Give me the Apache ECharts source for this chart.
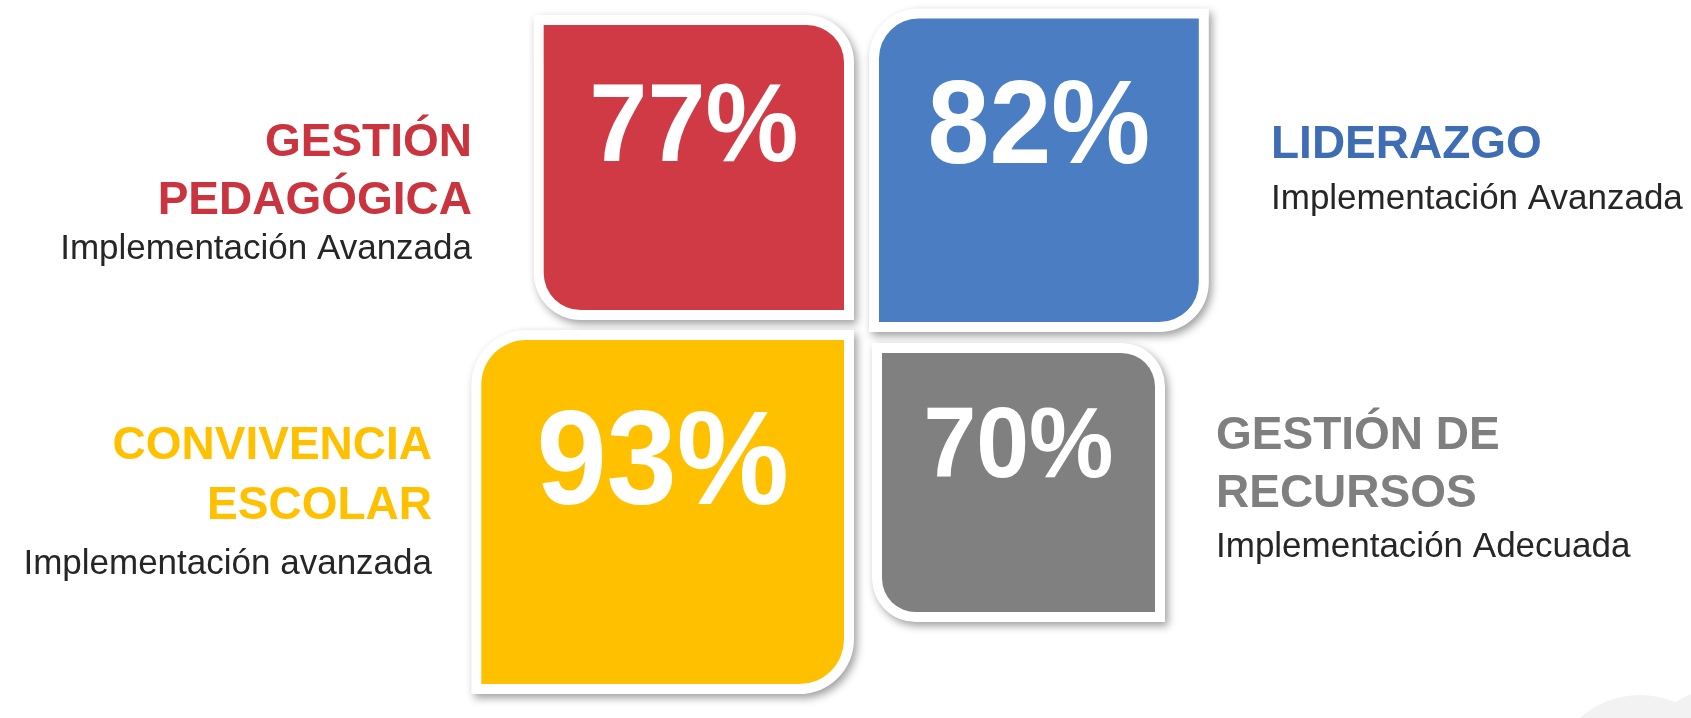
<!DOCTYPE html>
<html lang="es">
<head>
<meta charset="utf-8">
<title>Indicadores de gestión</title>
<script src="https://cdn.jsdelivr.net/npm/echarts@6/dist/echarts.min.js"></script>
<style>
  html, body { margin: 0; padding: 0; background: #ffffff; }
  #chart { width: 1691px; height: 718px; }
</style>
</head>
<body>
<div id="chart"></div>
<script>
// order: top-left, top-right, bottom-left, bottom-right
const areas = ["GESTIÓN\nPEDAGÓGICA", "LIDERAZGO", "CONVIVENCIA\nESCOLAR", "GESTIÓN DE\nRECURSOS"];
const percents = [77, 82, 93, 70];
const levels = ["Implementación Avanzada", "Implementación Avanzada", "Implementación avanzada", "Implementación Adecuada"];

const fillColors = ["#d03a45", "#4a7dc2", "#ffc000", "#808080"];
const titleColors = ["#c9343f", "#3f6db3", "#ffc000", "#7f7f7f"];
const FONT = '"Liberation Sans", Arial, Helvetica, sans-serif';

// pixel layout of each quadrant, relative to the centre point of the figure
const quadrants = [
  { dir: [-1, -1], corner: [-17, -21], label: { x: -389, align: "right", lines: [-179, -121], sub: -76 } },
  { dir: [1, -1], corner: [18, -9], label: { x: 410, align: "left", lines: [-177], sub: -126 } },
  { dir: [-1, 1], corner: [-17, 9], label: { x: -429, align: "right", lines: [124, 184], sub: 239 } },
  { dir: [1, 1], corner: [21, 22], label: { x: 355, align: "left", lines: [114, 172], sub: 222 } },
];

const chart = echarts.init(document.getElementById("chart"), null, { renderer: "canvas" });

function textAt(x, baseline, text, size, weight, color, align) {
  return {
    type: "text",
    x: x,
    y: baseline - size * 0.35 + 7,
    style: {
      text: text,
      fill: color,
      font: `${weight} ${size}px ${FONT}`,
      align: align,
      verticalAlign: "middle",
    },
  };
}

function renderItem(params, api) {
  const i = api.value(0);
  const v = api.value(1);
  const q = quadrants[i];
  const c = api.coord([0, 0]);
  const s = api.size([v, v], [0, 0]);
  const w = s[0];
  const h = s[1];
  const cx = c[0] + q.corner[0];
  const cy = c[1] + q.corner[1];
  const x0 = q.dir[0] < 0 ? cx - w : cx;
  const y0 = q.dir[1] < 0 ? cy - h : cy;
  const r = Math.min(w, h) * 0.13;
  // rounded on the two corners that are not on the diagonal through the centre
  const diag = q.dir[0] === q.dir[1];
  const radius = diag ? [0, r, 0, r] : [r, 0, r, 0];
  const b = 10;
  const outer = diag ? [0, r + b, 0, r + b] : [r + b, 0, r + b, 0];
  const fs = h * 0.39;

  const children = [
    {
      type: "rect",
      shape: { x: x0 - b, y: y0 - b, width: w + 2 * b, height: h + 2 * b, r: outer },
      style: {
        fill: "#ffffff",
        shadowBlur: 8,
        shadowOffsetX: 3,
        shadowOffsetY: 4,
        shadowColor: "rgba(0, 0, 0, 0.38)",
      },
    },
    {
      type: "rect",
      shape: { x: x0, y: y0, width: w, height: h, r: radius },
      style: { fill: fillColors[i] },
    },
    {
      type: "text",
      x: x0 + w / 2,
      y: y0 + h * 0.37,
      scaleX: 0.94,
      style: {
        text: v + "%",
        fill: "#ffffff",
        font: `bold ${fs}px ${FONT}`,
        align: "center",
        verticalAlign: "middle",
      },
    },
  ];

  const lx = c[0] + q.label.x;
  areas[i].split("\n").forEach((line, k) => {
    children.push(textAt(lx, c[1] + q.label.lines[k], line, 46, "bold", titleColors[i], q.label.align));
  });
  children.push(textAt(lx, c[1] + q.label.sub, levels[i], 35, "normal", "#262626", q.label.align));

  return { type: "group", children: children };
}

chart.setOption({
  backgroundColor: "#ffffff",
  animation: false,
  graphic: [
    { type: "circle", shape: { cx: 1640, cy: 785, r: 90 }, style: { fill: "#f2f2f2" }, z: -10 },
    { type: "circle", shape: { cx: 1715, cy: 760, r: 70 }, style: { fill: "#f2f2f2" }, z: -10 },
  ],
  grid: { left: 81, width: 1560, top: 1.7, height: 699.3 },
  xAxis: { type: "value", min: -200, max: 200, show: false },
  yAxis: { type: "value", min: -100, max: 89, show: false },
  series: [
    {
      type: "custom",
      renderItem: renderItem,
      clip: false,
      encode: { x: 0, y: 1 },
      data: percents.map((v, i) => [i, v]),
    },
  ],
});
</script>
</body>
</html>
